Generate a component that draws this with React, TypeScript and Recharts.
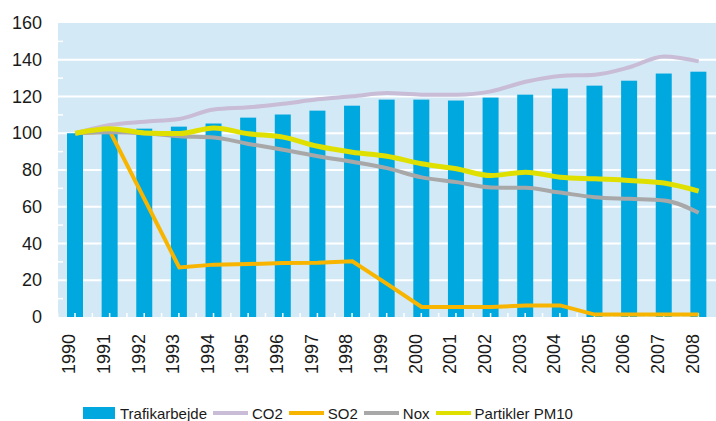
import React from 'react';
import { ComposedChart, Bar, Line, XAxis, YAxis, CartesianGrid, Legend } from 'recharts';

const years = ['1990', '1991', '1992', '1993', '1994', '1995', '1996', '1997', '1998', '1999', '2000', '2001', '2002', '2003', '2004', '2005', '2006', '2007', '2008'];
const trafikarbejde = [100, 101, 102.5, 103.6, 105.3, 108.5, 110.2, 112.3, 115, 118.3, 118.3, 117.8, 119.4, 121, 124.3, 125.9, 128.6, 132.5, 133.5];
const co2 = [100, 104.5, 106.3, 107.8, 112.9, 114.1, 116, 118.5, 120.1, 121.9, 121, 121, 122.8, 128, 131.2, 131.9, 135.9, 141.8, 139.1];
const so2 = [100, 101, 64, 27, 28.5, 28.8, 29.4, 29.5, 30.3, 18, 5.5, 5.5, 5.5, 6.2, 6.3, 1.3, 1.3, 1.3, 1.3];
const nox = [100, 100.5, 100, 98.4, 97.7, 94.2, 91, 87.5, 84.5, 81, 76, 73.4, 70.5, 70.3, 67.7, 65.2, 64.3, 63.4, 56.7];
const pm10 = [100, 102.5, 100.2, 99.8, 102.9, 99.7, 97.9, 92.9, 89.7, 87.5, 83.4, 80.7, 77, 78.8, 76.1, 75.2, 74.3, 72.9, 68.5];

const yTicks = [0, 10, 20, 30, 40, 50, 60, 70, 80, 90, 100, 110, 120, 130, 140, 150, 160];
const gridValues = [20, 40, 60, 80, 100, 120, 140];

const FONT = '"Liberation Sans", Arial, sans-serif';

const seriesInfo = [
    { key: 'trafik', name: 'Trafikarbejde', color: '#00A8E0', type: 'rect' },
    { key: 'co2', name: 'CO2', color: '#C8BCD6', type: 'line' },
    { key: 'so2', name: 'SO2', color: '#F7B500', type: 'line' },
    { key: 'nox', name: 'Nox', color: '#A8A8A8', type: 'line' },
    { key: 'pm10', name: 'Partikler PM10', color: '#E0E000', type: 'line' },
];

const data = years.map((year, i) => ({
    year,
    trafik: trafikarbejde[i],
    co2: co2[i],
    so2: so2[i],
    nox: nox[i],
    pm10: pm10[i],
}));

const PLOT_LEFT = 58;
const HALF_BAND = (716 - PLOT_LEFT) / years.length / 2;

const YTick = (props: any) => {
    const { y, payload } = props;
    if (payload.value % 20 !== 0) {
        return <line x1={PLOT_LEFT} x2={PLOT_LEFT + 5} y1={y} y2={y} stroke="#fff" strokeWidth={1.5} />;
    }
    return (
        <text x={42} y={y} dy={6} textAnchor="end" fontSize={18} fill="#1a1a1a" fontFamily={FONT}>
            {payload.value}
        </text>
    );
};

const XTick = (props: any) => {
    const { x, payload } = props;
    return (
        <text
            transform={`translate(${x},334) rotate(-90)`}
            textAnchor="end"
            fontSize={18}
            fill="#1a1a1a"
            fontFamily={FONT}
        >
            {payload.value}
        </text>
    );
};

// bar + the little white category ticks, kept in the bar layer so the lines cover them
const BarWithTicks = (props: any) => {
    const { x, y, width, height, fill } = props;
    const cx = x + width / 2;
    const bottom = y + height;
    return (
        <g>
            <rect x={x} y={y} width={width} height={height} fill={fill} />
            <line x1={cx} x2={cx} y1={bottom} y2={bottom - 4} stroke="#fff" strokeWidth={1.5} />
            <line x1={cx - HALF_BAND} x2={cx - HALF_BAND} y1={bottom} y2={bottom - 4} stroke="#fff" strokeWidth={1.5} />
        </g>
    );
};

const LegendContent = () => (
    <div style={{ display: 'flex', alignItems: 'center', paddingLeft: 83, fontFamily: FONT, fontSize: 15, color: '#1a1a1a', height: 20 }}>
        {seriesInfo.map((s) => (
            <div key={s.key} style={{ display: 'flex', alignItems: 'center', marginRight: 6 }}>
                {s.type === 'rect' ? (
                    <span style={{ display: 'inline-block', width: 32, height: 12, background: s.color, marginRight: 5 }} />
                ) : (
                    <span style={{ display: 'inline-block', width: 35, height: 4, background: s.color, marginRight: 4 }} />
                )}
                <span>{s.name}</span>
            </div>
        ))}
    </div>
);

const App: React.FC = () => {
    return (
        <div style={{ position: 'absolute', left: 0, top: 0, width: 716, height: 421, background: '#fff' }}>
            <ComposedChart
                width={716}
                height={421}
                data={data}
                margin={{ top: 23, right: 0, left: 0, bottom: 0 }}
                barCategoryGap={0}
            >
                <CartesianGrid
                    vertical={false}
                    horizontalValues={gridValues}
                    fill="#D4E9F6"
                    stroke="#fff"
                    strokeWidth={2}
                />
                <XAxis dataKey="year" height={104} axisLine={false} tickLine={false} tickSize={0} interval={0} tick={<XTick />} />
                <YAxis
                    width={58}
                    domain={[0, 160]}
                    ticks={yTicks}
                    interval={0}
                    axisLine={false}
                    tickLine={false}
                    tickSize={0}
                    tick={<YTick />}
                />
                <Bar dataKey="trafik" name="Trafikarbejde" fill="#00A8E0" barSize={16} shape={<BarWithTicks />} isAnimationActive={false} />
                <Line type="monotone" dataKey="co2" name="CO2" stroke="#C8BCD6" strokeWidth={4} dot={false} isAnimationActive={false} />
                <Line type="linear" dataKey="so2" name="SO2" stroke="#F7B500" strokeWidth={4} dot={false} isAnimationActive={false} />
                <Line type="monotone" dataKey="nox" name="Nox" stroke="#A8A8A8" strokeWidth={4} dot={false} isAnimationActive={false} />
                <Line type="monotone" dataKey="pm10" name="Partikler PM10" stroke="#E0E000" strokeWidth={5} dot={false} isAnimationActive={false} />
                <Legend
                    layout="horizontal"
                    verticalAlign="middle"
                    align="center"
                    wrapperStyle={{ top: 403, left: 0, width: 716 }}
                    content={<LegendContent />}
                />
            </ComposedChart>
        </div>
    );
};

export default App;
